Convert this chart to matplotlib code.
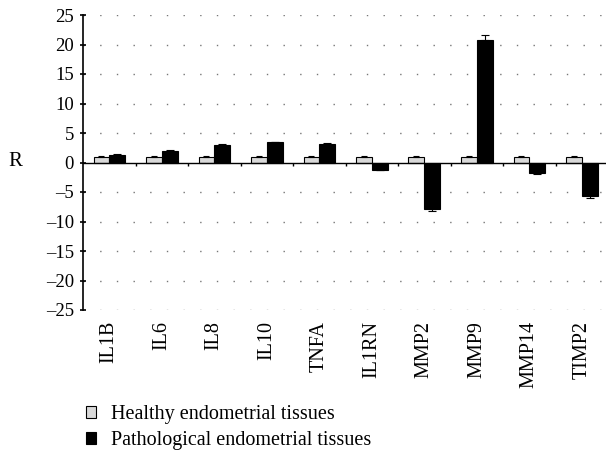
import numpy as np
import matplotlib
matplotlib.use("Agg")
import matplotlib.pyplot as plt
from matplotlib.patches import Patch

plt.rcParams['font.family'] = ['Liberation Serif', 'DejaVu Serif']

genes = ["IL1B", "IL6", "IL8", "IL10", "TNFA", "IL1RN", "MMP2", "MMP9", "MMP14", "TIMP2"]
healthy = [1.0, 1.0, 1.0, 1.0, 1.0, 1.0, 1.0, 1.0, 1.0, 1.0]
healthy_err = [0.1, 0.1, 0.1, 0.1, 0.1, 0.1, 0.1, 0.1, 0.1, 0.1]
patho = [1.3, 2.0, 3.0, 3.4, 3.2, -1.25, -7.8, 20.75, -1.8, -5.6]
patho_err = [0.1, 0.1, 0.1, 0.1, 0.1, 0.1, 0.4, 0.9, 0.1, 0.4]
yticks = list(range(-25, 30, 5))

fig = plt.figure(figsize=(6.06, 4.53), dpi=100)
W, H = 606, 453
ax = fig.add_axes([83 / W, (H - 310) / H, (W - 83) / W, (310 - 15) / H])

x = np.arange(len(genes))
bw = 0.3

# one sided errors, in direction of the bar
p = np.array(patho)
pe = np.array(patho_err)
p_err = [np.where(p < 0, pe, 0), np.where(p >= 0, pe, 0)]

ax.bar(x - bw / 2, healthy, bw, color="#d9d9d9", edgecolor="black", linewidth=0.8,
       yerr=[np.zeros(len(healthy)), healthy_err], capsize=2.5,
       error_kw=dict(elinewidth=0.8, capthick=0.8), zorder=3)
ax.bar(x + bw / 2, patho, bw, color="black", edgecolor="black", linewidth=0.8,
       yerr=p_err, capsize=3,
       error_kw=dict(elinewidth=0.8, capthick=0.8, ecolor="black"), zorder=3)

ax.set_ylim(-25, 25)
ax.set_xlim(-0.5, len(genes) - 0.5 - 2 / 52.5)

for s in ["top", "right", "bottom"]:
    ax.spines[s].set_visible(False)
ax.spines["left"].set_linewidth(1.2)

for t in yticks:
    if t != 0:
        ax.axhline(t, color="#777777", lw=1.0, ls=(0, (1, 11)), zorder=1)
ax.axhline(0, color="black", lw=1.0, zorder=4)
ax.vlines(x[:-1] + 0.5, -0.55, 0, color="black", lw=1.0, zorder=4)

ax.set_yticks(yticks)
ax.set_yticklabels([str(t).replace("-", "\u2013") for t in yticks], fontsize=13.5)
ax.tick_params(axis="y", direction="inout", length=5, width=1.2, pad=4)

ax.set_xticks(x)
ax.set_xticklabels(genes, rotation=90, fontsize=14.5, va="top")
ax.tick_params(axis="x", length=0, pad=8)

fig.text(8 / W, 1 - 162 / H, "R", fontsize=15, va="center", ha="left")

handles = [Patch(facecolor="#d9d9d9", edgecolor="black", linewidth=0.8),
           Patch(facecolor="black", edgecolor="black", linewidth=0.8)]
fig.legend(handles, ["Healthy endometrial tissues", "Pathological endometrial tissues"],
           loc="upper left", bbox_to_anchor=(86 / W, 1 - 405 / H), frameon=False,
           fontsize=14.5, handlelength=0.5, handleheight=0.5, handletextpad=0.75,
           labelspacing=0.35, borderpad=0, borderaxespad=0)

fig.savefig("out.png", dpi=100)
